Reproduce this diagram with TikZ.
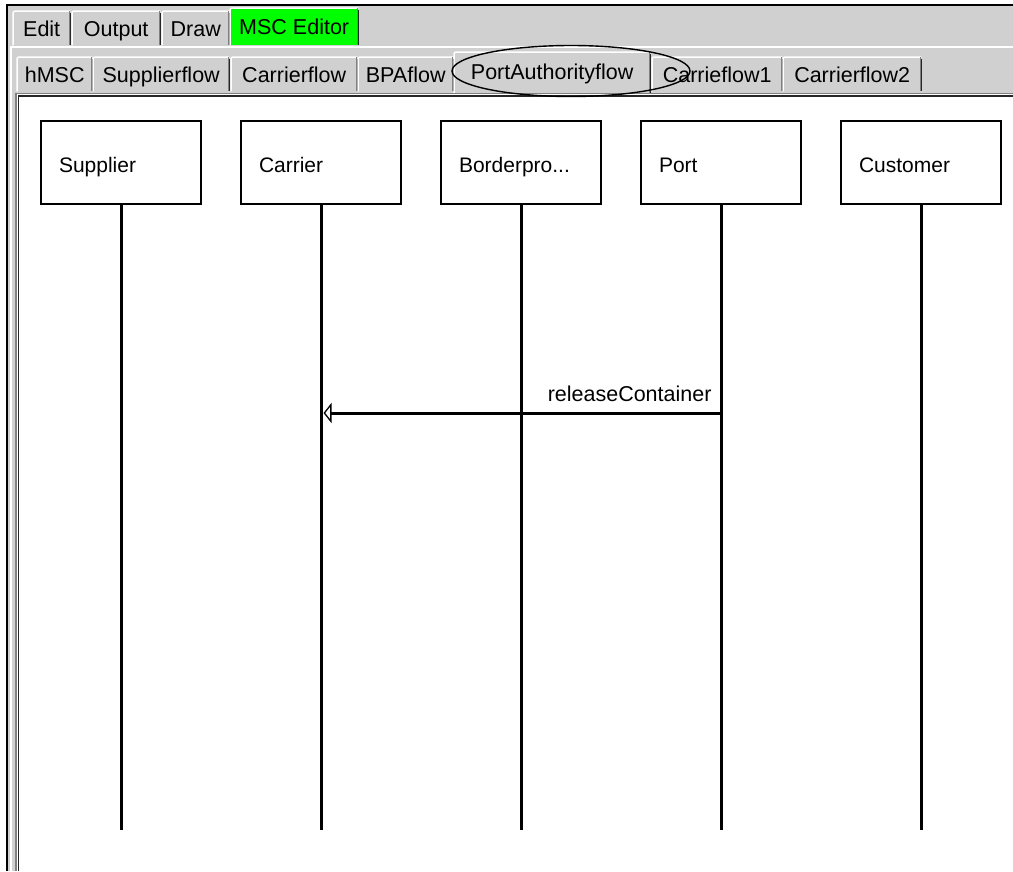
\documentclass[tikz,border=0pt]{standalone}
\usepackage{fontspec}
\setmainfont{Liberation Sans}
\usetikzlibrary{arrows.meta}
\definecolor{wingray}{RGB}{208,208,208}
\definecolor{winshadow}{RGB}{128,128,128}
\definecolor{tabgreen}{RGB}{0,255,0}

% 3D rim of a tab: light top/left edge, dark right edge
\newcommand\tabrim[1]{%
  \draw[white, line width=1.5pt, rounded corners=2pt]
    (#1.south west) -- (#1.north west) -- (#1.north east);
  \draw[winshadow, line width=1.5pt] ([xshift=-1pt]#1.north east) -- ([xshift=-1pt]#1.south east);
  \draw[black!85, line width=1pt] ([xshift=0.5pt,yshift=-2pt]#1.north east) -- ([xshift=0.5pt]#1.south east);
}

\begin{document}
\begin{tikzpicture}[x=1pt,y=-1pt,
  uifont/.style={font=\fontsize{21}{25}\selectfont},
  tabfont/.style={font=\fontsize{21.5}{25}\selectfont},
  tabbox/.style={rectangle, fill=wingray, inner sep=0pt, minimum height=34pt,
                 text height=16pt, text depth=0pt, tabfont, anchor=north west},
  lifebox/.style={draw, line width=2pt, fill=white, minimum width=160pt,
                  minimum height=83pt, inner xsep=18pt, text width=124pt,
                  text height=19pt, text depth=0pt, align=left, uifont},
  lifeline/.style={line width=3pt},
  msgline/.style={line width=3pt,
                  -{Triangle[open, length=8pt, width=20pt, line width=1.3pt]}},
  pen/.style={line width=1.4pt},
]
\useasboundingbox (0,0) rectangle (1013,871);
\fill[white] (0,0) rectangle (1013,871);

% window frame and tab control background
\fill[wingray] (7,5) rectangle (1013,871);
\draw[black, line width=2pt] (7,871) -- (7,5) -- (1013,5);
\draw[white, line width=1.5pt] (11,871) -- (11,47) -- (1013,47);

% first tab row
\node[tabbox, minimum width=57pt]  (edit)   at (13,11)  {Edit};
\node[tabbox, minimum width=88pt]  (output) at (72,11)  {Output};
\node[tabbox, minimum width=67pt]  (drawt)  at (162,11) {Draw};
\node[tabbox, minimum width=128pt, minimum height=37pt, fill=tabgreen] (msc) at (230,8) {MSC Editor};
\foreach \t in {edit,output,drawt,msc} {\tabrim{\t}}

% second tab row
\node[tabbox, minimum width=75pt]  (hmsc)  at (17,57)  {hMSC};
\node[tabbox, minimum width=136pt] (supf)  at (93,57)  {Supplierflow};
\node[tabbox, minimum width=126pt] (carf)  at (231,57) {Carrierflow};
\node[tabbox, minimum width=95pt]  (bpaf)  at (358,57) {BPAflow};
\node[tabbox, minimum width=130pt] (car1)  at (652,57) {Carrieflow1};
\node[tabbox, minimum width=138pt] (car2)  at (783,57) {Carrierflow2};
\node[tabbox, minimum width=196pt, minimum height=41pt, text height=13pt] (paf) at (454,52) {PortAuthorityflow};
\foreach \t in {hmsc,supf,carf,bpaf,car1,car2,paf} {\tabrim{\t}}

% sunken content panel
\fill[white] (17,93) rectangle (1013,871);
\draw[winshadow, line width=1.5pt] (16,871) -- (16,93.5) -- (1013,93.5);
\draw[black!85, line width=1.5pt] (18.5,871) -- (18.5,96) -- (1013,96);

% hand-drawn mark around the active tab
\draw[pen] (571,71) ellipse [x radius=119pt, y radius=25.5pt];

% instances
\node[lifebox] (sup)  at (121,162.5) {Supplier};
\node[lifebox] (car)  at (321,162.5) {Carrier};
\node[lifebox] (bor)  at (521,162.5) {Borderpro...};
\node[lifebox] (port) at (721,162.5) {Port};
\node[lifebox] (cus)  at (921,162.5) {Customer};

\coordinate (supEnd)  at (121,830);
\coordinate (carEnd)  at (321,830);
\coordinate (borEnd)  at (521,830);
\coordinate (portEnd) at (721,830);
\coordinate (cusEnd)  at (921,830);

\draw[lifeline] (sup.south)  -- (supEnd);
\draw[lifeline] (car.south)  -- (carEnd);
\draw[lifeline] (bor.south)  -- (borEnd);
\draw[lifeline] (port.south) -- (portEnd);
\draw[lifeline] (cus.south)  -- (cusEnd);

% message
\coordinate (msgFrom) at (721,413);
\coordinate (msgTo)   at (323.5,413);
\draw[msgline] (msgFrom) -- (msgTo)
  node[pos=0, anchor=base east, inner sep=0pt, xshift=-8pt, yshift=12pt,
       font=\fontsize{21.5}{25}\selectfont] {releaseContainer};
\end{tikzpicture}
\end{document}
